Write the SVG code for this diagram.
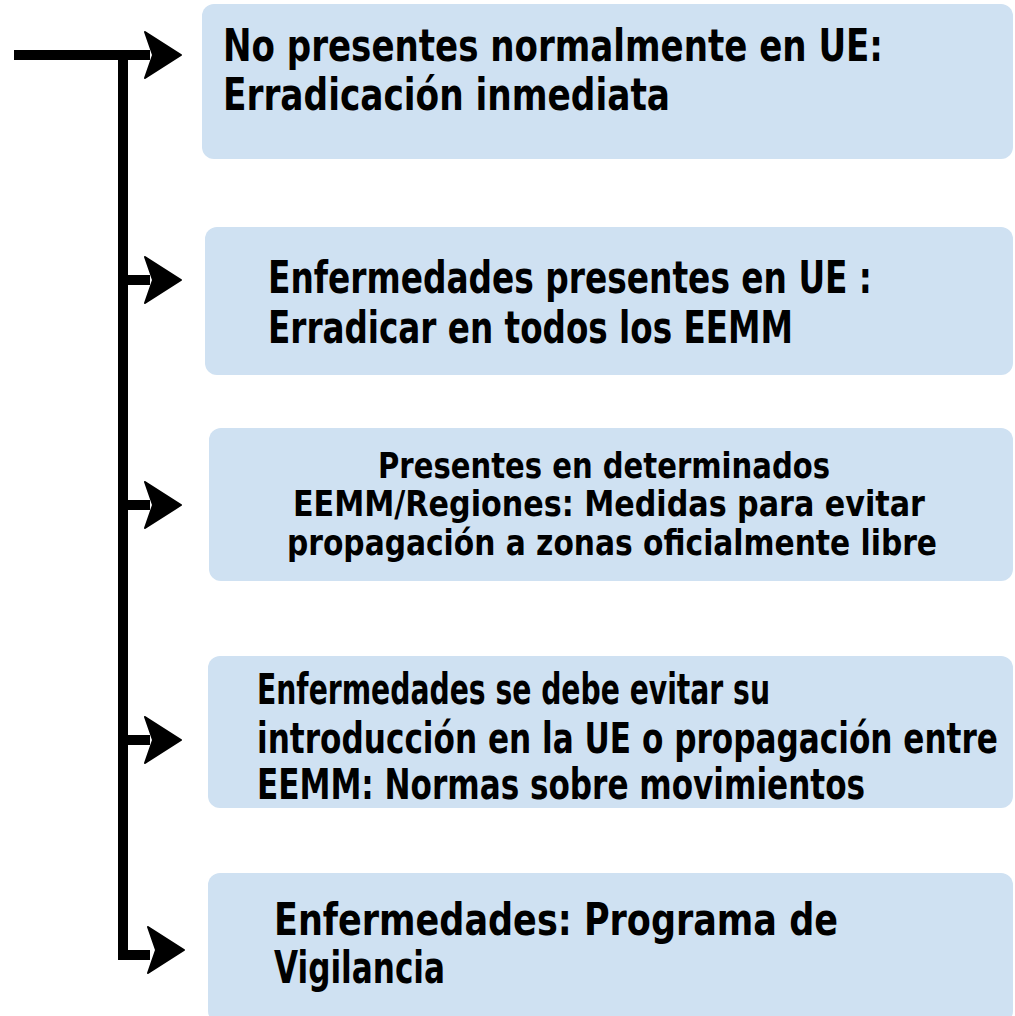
<svg xmlns="http://www.w3.org/2000/svg" width="1015" height="1016" viewBox="0 0 1015 1016">
<style>
.box{fill:#cfe1f2;}
.t{font-family:"DejaVu Sans Condensed","DejaVu Sans","Liberation Sans",sans-serif;font-stretch:condensed;font-weight:bold;fill:#000;}
.l{stroke:#000;stroke-width:10;fill:none;}
</style>
<defs>
<path id="ah" d="M-35,-23 L1,0 L-35,23 L-27,0 Z" fill="#000" stroke="#000" stroke-width="2" stroke-linejoin="round"/>
</defs>
<rect width="1015" height="1016" fill="#fff"/>
<g id="connectors">
<path class="l" d="M14,55 H150 M123,50 V955 H150 M123,280 H150 M123,505 H150 M123,740 H150"/>
<use href="#ah" x="180" y="55"/>
<use href="#ah" x="180" y="280"/>
<use href="#ah" x="180" y="505"/>
<use href="#ah" x="180" y="740"/>
<use href="#ah" x="183" y="950"/>
</g>
<g id="n1">
<rect class="box" x="202" y="4" width="811" height="155" rx="12"/>
<text class="t" font-size="45" x="223" y="61" textLength="660" lengthAdjust="spacingAndGlyphs">No presentes normalmente en UE:</text>
<text class="t" font-size="45" x="223" y="110" textLength="447" lengthAdjust="spacingAndGlyphs">Erradicación inmediata</text>
</g>
<g id="n2">
<rect class="box" x="205" y="227" width="808" height="148" rx="12"/>
<text class="t" font-size="45" x="268" y="293" textLength="604" lengthAdjust="spacingAndGlyphs">Enfermedades presentes en UE :</text>
<text class="t" font-size="45" x="268" y="343" textLength="525" lengthAdjust="spacingAndGlyphs">Erradicar en todos los EEMM</text>
</g>
<g id="n3">
<rect class="box" x="209" y="428" width="804" height="153" rx="12"/>
<text class="t" font-size="36" x="378" y="478" textLength="452" lengthAdjust="spacingAndGlyphs">Presentes en determinados</text>
<text class="t" font-size="36" x="293" y="516" textLength="632" lengthAdjust="spacingAndGlyphs">EEMM/Regiones: Medidas para evitar</text>
<text class="t" font-size="36" x="287" y="555" textLength="650" lengthAdjust="spacingAndGlyphs">propagación a zonas oficialmente libre</text>
</g>
<g id="n4">
<rect class="box" x="208" y="656" width="805" height="152" rx="12"/>
<text class="t" font-size="43" x="257" y="704" textLength="513" lengthAdjust="spacingAndGlyphs">Enfermedades se debe evitar su</text>
<text class="t" font-size="43" x="257" y="753" textLength="741" lengthAdjust="spacingAndGlyphs">introducción en la UE o propagación entre</text>
<text class="t" font-size="43" x="257" y="799" textLength="608" lengthAdjust="spacingAndGlyphs">EEMM: Normas sobre movimientos</text>
</g>
<g id="n5">
<rect class="box" x="208" y="873" width="805" height="150" rx="12"/>
<text class="t" font-size="44" x="274" y="935" textLength="564" lengthAdjust="spacingAndGlyphs">Enfermedades: Programa de</text>
<text class="t" font-size="44" x="274" y="983" textLength="171" lengthAdjust="spacingAndGlyphs">Vigilancia</text>
</g>
</svg>
